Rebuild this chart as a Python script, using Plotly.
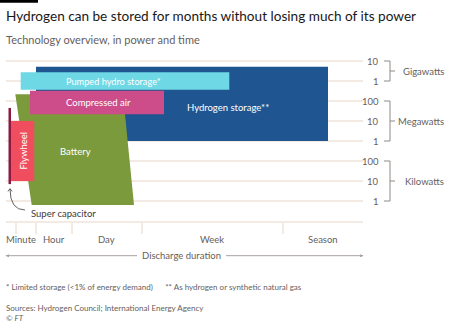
import numpy as np
import plotly.graph_objects as go

# Duration scale: position along the discharge-duration axis (0 = shortest)
band_names = ["Minute", "Hour", "Day", "Week", "Season"]
band_edges = [0, 29.7, 65.7, 135.7, 276.7, 357]
extra_tick = [10]

# Power in kilowatts
power_ticks_kw = [1, 10, 100, 1e3, 1e4, 1e5, 1e6, 1e7]
power_tick_text = ["1", "10", "100", "1", "10", "100", "1", "10"]
units = ["Kilowatts", "Megawatts", "Gigawatts"]

# Technologies: duration span and power span (kW)
hydrogen_dur = [30, 322]
hydrogen_kw = [1e3, 5.1e6]
pumped_dur = [14.7, 223.3]
pumped_kw = [3.6e5, 2.7e6]
compressed_dur = [24, 158]
compressed_kw = [2.15e4, 3.3e5]
# battery is a skewed block: (top-left, top-right, bottom-right, bottom-left)
battery_dur = [9.3, 117, 128, 25.7]
battery_kw = [2.16e5, 2.16e5, 0.63, 0.63]
flywheel_dur = [5, 28.3]
flywheel_kw = [10, 1e4]
supercap_dur = [2.5, 5]
supercap_kw = [7, 4.5e4]

C_H2 = "#1f5590"
C_PUMP = "#6fd8e5"
C_AIR = "#cc4d89"
C_BATT = "#7b9a3c"
C_FLY = "#f04e5f"
C_CAP = "#8c1a40"
C_GRID = "#f2eae3"
C_TXT = "#66605c"
C_BRK = "#8f8985"
FONT = "Lato"

lg = np.log10


def rect(dur, kw, color):
    x = [dur[0], dur[1], dur[1], dur[0], dur[0]]
    y = list(lg([kw[0], kw[0], kw[1], kw[1], kw[0]]))
    return go.Scatter(x=x, y=y, mode="lines", fill="toself", fillcolor=color,
                      line=dict(width=0), hoverinfo="skip", showlegend=False)


fig = go.Figure()
fig.add_trace(rect(hydrogen_dur, hydrogen_kw, C_H2))
fig.add_trace(go.Scatter(x=battery_dur + battery_dur[:1],
                         y=list(lg(battery_kw + battery_kw[:1])),
                         mode="lines", fill="toself", fillcolor=C_BATT,
                         line=dict(width=0), hoverinfo="skip", showlegend=False))
fig.add_trace(rect(pumped_dur, pumped_kw, C_PUMP))
fig.add_trace(rect(compressed_dur, compressed_kw, C_AIR))
fig.add_trace(rect(flywheel_dur, flywheel_kw, C_FLY))
fig.add_trace(rect(supercap_dur, supercap_kw, C_CAP))

W, H = 455, 323
L, R, T, B = 6, 92, 56, 102
pw, ph = W - L - R, H - T - B


def px(xp):
    return (xp - L) / pw


def py(yp):
    return (H - B - yp) / ph


ann = []
shapes = []


def label(text, x, y, size=9.5, color="white", xref="x", yref="y",
          xanchor="center", yanchor="middle", **kw):
    ann.append(dict(text=text, x=x, y=y, xref=xref, yref=yref, showarrow=False,
                    xanchor=xanchor, yanchor=yanchor,
                    font=dict(family=FONT, size=size, color=color), **kw))


# labels inside blocks
label("Pumped hydro storage*", 107, lg(np.sqrt(pumped_kw[0] * pumped_kw[1])), size=9.2)
label("Compressed air", 92, lg(np.sqrt(compressed_kw[0] * compressed_kw[1])))
label("Hydrogen storage**", 222, 4.7)
label("Battery", 69, 2.47)
label("Flywheel", 16.5, 2.5, textangle=-90)

# super capacitor call-out
shapes.append(dict(type="path", xref="x", yref="y",
                   path="M 4,0.6 Q 4,-0.45 19,-0.45",
                   line=dict(color=C_TXT, width=1)))
shapes.append(dict(type="path", xref="x", yref="y",
                   path="M 2,0.48 L 4,0.62 L 6,0.48",
                   line=dict(color=C_TXT, width=1)))
label("Super capacitor", 23, -0.6, color="#3d3936", xanchor="left")

# right-hand power labels and unit brackets
for v, t in zip(power_ticks_kw, power_tick_text):
    label(t, px(380.5), lg(v), color=C_TXT, xref="paper", xanchor="right")
groups = [(0, 2), (3, 5), (6, 7)]
for (a, b), name in zip(groups, units):
    y0, y1 = lg(power_ticks_kw[a]), lg(power_ticks_kw[b])
    xa, xb, xc = px(384), px(390), px(395)
    shapes.append(dict(type="path", xref="paper", yref="y",
                       path=f"M {xa},{y1} L {xb},{y1} L {xb},{y0} L {xa},{y0}",
                       line=dict(color=C_BRK, width=1)))
    ym = (y0 + y1) / 2
    shapes.append(dict(type="line", xref="paper", yref="y", x0=xb, x1=xc,
                       y0=ym, y1=ym, line=dict(color=C_BRK, width=1)))
    label(name, px(446), ym, color=C_TXT, xref="paper", xanchor="right")

# duration band labels
for i, n in enumerate(band_names):
    label(n, (band_edges[i] + band_edges[i + 1]) / 2, py(239), color=C_TXT,
          yref="paper")

# discharge duration arrow
yd = py(255.7)
label("Discharge duration", px(181.5), yd, color=C_TXT, xref="paper", yref="paper")
for xa, xb in [(6, 137), (226, 363)]:
    shapes.append(dict(type="line", xref="paper", yref="paper", x0=px(xa), x1=px(xb),
                       y0=yd, y1=yd, line=dict(color="#a8a29e", width=1)))
hh = 1.5 / ph
shapes.append(dict(type="path", xref="paper", yref="paper",
                   path=f"M {px(9)},{yd + hh} L {px(5.5)},{yd} L {px(9)},{yd - hh} Z",
                   fillcolor="#a8a29e", line=dict(width=0)))
shapes.append(dict(type="path", xref="paper", yref="paper",
                   path=f"M {px(360)},{yd + hh} L {px(363.5)},{yd} L {px(360)},{yd - hh} Z",
                   fillcolor="#a8a29e", line=dict(width=0)))

# title block
shapes.append(dict(type="rect", xref="paper", yref="paper", x0=px(0), x1=px(38),
                   y0=py(2.7), y1=py(0), fillcolor="black", line=dict(width=0)))
label("Hydrogen can be stored for months without losing much of its power",
      px(3.5), py(15.5), size=13.6, color="#1a1817", xref="paper", yref="paper",
      xanchor="left")
label("Technology overview, in power and time", px(3.5), py(39), size=11,
      color=C_TXT, xref="paper", yref="paper", xanchor="left")

# notes
label("* Limited storage (<1% of energy demand)      ** As hydrogen or synthetic natural gas",
      px(3.5), py(287), size=8, color=C_TXT, xref="paper", yref="paper", xanchor="left")
label("Sources: Hydrogen Council; International Energy Agency", px(3.5), py(307.5),
      size=8, color=C_TXT, xref="paper", yref="paper", xanchor="left")
label("<i>© FT</i>", px(3.5), py(317.5), size=8, color=C_TXT, xref="paper",
      yref="paper", xanchor="left")

fig.update_layout(
    width=W, height=H, margin=dict(l=L, r=R, t=T, b=B),
    plot_bgcolor="white", paper_bgcolor="white",
    annotations=ann, shapes=shapes, showlegend=False,
    xaxis=dict(range=[band_edges[0], band_edges[-1]], showgrid=False, zeroline=False,
               showline=True, linecolor=C_GRID, linewidth=1.5,
               tickvals=extra_tick + band_edges[1:-1], ticks="outside", ticklen=11,
               tickcolor=C_GRID, tickwidth=1.5, showticklabels=False, fixedrange=True),
    yaxis=dict(range=[-1.0, 7.25], tickvals=list(lg(power_ticks_kw)), showgrid=True,
               gridcolor=C_GRID, gridwidth=1.5, zeroline=False, showticklabels=False,
               fixedrange=True),
)

fig.write_html("out.html")
